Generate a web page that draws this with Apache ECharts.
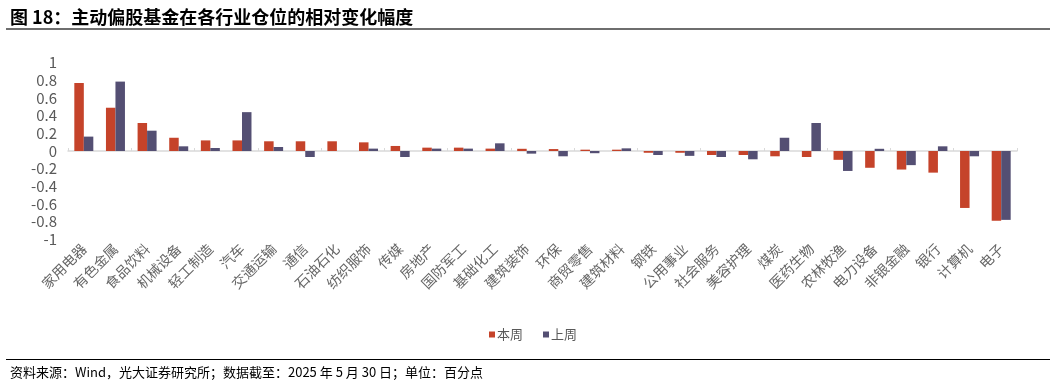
<!DOCTYPE html>
<html><head><meta charset="utf-8">
<script src="https://cdn.jsdelivr.net/npm/echarts@6/dist/echarts.min.js"></script>
<style>html,body{margin:0;padding:0;background:#fff}#c{width:1055px;height:381px}</style>
</head><body><div id="c"></div>
<script>
const categories = ['家用电器','有色金属','食品饮料','机械设备','轻工制造','汽车','交通运输','通信','石油石化','纺织服饰','传媒','房地产','国防军工','基础化工','建筑装饰','环保','商贸零售','建筑材料','钢铁','公用事业','社会服务','美容护理','煤炭','医药生物','农林牧渔','电力设备','非银金融','银行','计算机','电子'];
const thisWeek = [0.77,0.49,0.317,0.15,0.12,0.12,0.11,0.11,0.11,0.098,0.057,0.038,0.038,0.027,0.025,0.022,0.015,0.015,-0.02,-0.02,-0.045,-0.045,-0.06,-0.068,-0.1,-0.19,-0.21,-0.245,-0.645,-0.79];
const lastWeek = [0.163,0.786,0.23,0.053,0.034,0.44,0.045,-0.068,0.0,0.027,-0.068,0.027,0.027,0.087,-0.03,-0.06,-0.025,0.03,-0.045,-0.055,-0.068,-0.094,0.15,0.317,-0.226,0.025,-0.16,0.053,-0.06,-0.78];
const seriesNames = ['本周','上周'];
const titleText = '图 18：主动偏股基金在各行业仓位的相对变化幅度';
const footText = '资料来源：Wind，光大证券研究所；数据截至：2025 年 5 月 30 日；单位：百分点';

const FONT = '"Noto Sans CJK SC","Noto Sans",sans-serif';
const chart = echarts.init(document.getElementById('c'), null, {renderer:'canvas'});
chart.setOption({
  animation: false,
  textStyle: {fontFamily: FONT},
  title: [
    {text: titleText, left: 5, top: 3, textStyle: {fontSize: 18, fontWeight: 'bold', color: '#000', fontFamily: FONT}},
    {text: footText, left: 5, top: 361, textStyle: {fontSize: 13, fontWeight: 'normal', color: '#000', fontFamily: FONT}}
  ],
  graphic: [
    {type: 'line', shape: {x1: 6, y1: 29, x2: 1050, y2: 29}, style: {stroke: '#6e6e6e', lineWidth: 2}},
    {type: 'line', shape: {x1: 6, y1: 359.5, x2: 1050, y2: 359.5}, style: {stroke: '#000', lineWidth: 1}}
  ],
  legend: {
    data: seriesNames, left: 484, top: 323, icon: 'rect', itemWidth: 6, itemHeight: 6, itemGap: 20,
    textStyle: {fontSize: 13, color: '#595959', fontFamily: FONT, padding: [0,0,0,-3]}
  },
  grid: {left: 68, right: 38, top: 62.7, bottom: 141.7, containLabel: false},
  xAxis: [
    {type: 'category', data: categories, position: 'bottom',
     axisLine: {show: false, onZero: false}, axisTick: {show: false},
     axisLabel: {interval: 0, rotate: 45, fontSize: 14, color: '#666666', margin: 7, fontFamily: FONT}},
    {type: 'category', data: categories, position: 'bottom',
     axisLine: {show: true, onZero: true, lineStyle: {color: '#d9d9d9', width: 1.5}},
     axisTick: {show: true, inside: true, length: 3, lineStyle: {color: '#d9d9d9'}},
     axisLabel: {show: false}}
  ],
  yAxis: {type: 'value', min: -1, max: 1, interval: 0.2,
    axisLine: {show: false}, axisTick: {show: false}, splitLine: {show: false},
    axisLabel: {fontSize: 15, color: '#595959', margin: 11, fontFamily: FONT,
      formatter: v => String(Math.round(v*10)/10)}},
  series: [
    {name: seriesNames[0], type: 'bar', data: thisWeek, barWidth: 9.5, barGap: '0%', itemStyle: {color: '#c5432a'}},
    {name: seriesNames[1], type: 'bar', data: lastWeek, barWidth: 9.5, barGap: '0%', itemStyle: {color: '#544f73'}}
  ]
});
</script></body></html>
